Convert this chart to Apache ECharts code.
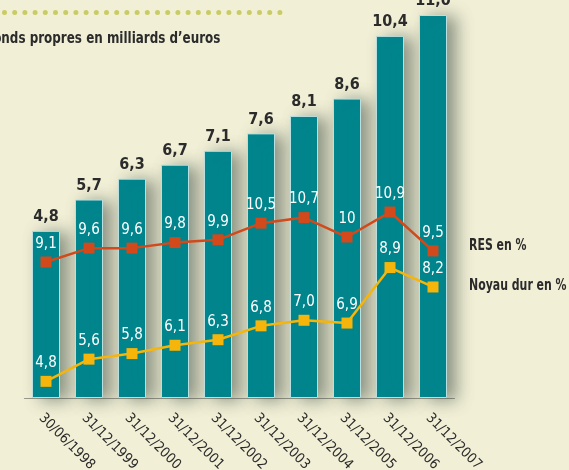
<!DOCTYPE html>
<html>
<head>
<meta charset="utf-8">
<script src="https://cdn.jsdelivr.net/npm/echarts@6/dist/echarts.min.js"></script>
<style>
  html, body { margin: 0; padding: 0; background: #f1efd6; }
  #chart { width: 569px; height: 470px; }
</style>
</head>
<body>
<div id="chart"></div>
<script>
// dates des arrêtés
const categories = ["30/06/1998", "31/12/1999", "31/12/2000", "31/12/2001", "31/12/2002", "31/12/2003", "31/12/2004", "31/12/2005", "31/12/2006", "31/12/2007"];
// fonds propres en milliards d'euros
const fondsPropres = [4.8, 5.7, 6.3, 6.7, 7.1, 7.6, 8.1, 8.6, 10.4, 11.0];
// ratios en %
const res = [9.1, 9.6, 9.6, 9.8, 9.9, 10.5, 10.7, 10, 10.9, 9.5];
const noyauDur = [4.8, 5.6, 5.8, 6.1, 6.3, 6.8, 7.0, 6.9, 8.9, 8.2];
const resLabels = ["9,1", "9,6", "9,6", "9,8", "9,9", "10,5", "10,7", "10", "10,9", "9,5"];

const font = '"DejaVu Sans Condensed", "Liberation Sans Narrow", sans-serif';
const fmt = v => v.toFixed(1).replace(".", ",");

const chart = echarts.init(document.getElementById("chart"));
chart.setOption({
  backgroundColor: "#f1efd6",
  animation: false,
  grid: { left: 24.5, width: 430, top: 15, bottom: 72, outerBoundsMode: "none", containLabel: false },
  xAxis: {
    type: "category",
    data: categories,
    axisTick: { show: false },
    axisLine: { lineStyle: { color: "#9a9a8a", width: 1 } },
    axisLabel: {
      rotate: -45, interval: 0, margin: 13, verticalAlign: "top",
      color: "#2b2b2b", fontSize: 14, fontFamily: font
    }
  },
  yAxis: [
    { type: "value", min: 0, max: 11, show: false, splitLine: { show: false } },
    { type: "value", min: 4.2, max: 18, show: false, splitLine: { show: false } }
  ],
  series: [
    {
      name: "Fonds propres",
      type: "bar",
      data: fondsPropres,
      barWidth: 28,
      itemStyle: {
        color: "#00878f",
        borderColor: "#b9dfe0",
        borderWidth: 1,
        shadowBlur: 16,
        shadowOffsetX: 9,
        shadowOffsetY: 2,
        shadowColor: "rgba(40,60,50,0.5)"
      },
      label: {
        show: true, position: "top", distance: 6,
        color: "#2b2b2b", fontSize: 16, fontWeight: "bold", fontFamily: font,
        formatter: p => fmt(p.value)
      }
    },
    {
      name: "RES en %",
      type: "line",
      yAxisIndex: 1,
      data: res,
      symbol: "rect",
      symbolSize: 11,
      lineStyle: { color: "#d2491b", width: 2.5 },
      itemStyle: { color: "#d2491b" },
      label: {
        show: true, position: "top", distance: 5,
        color: "#ffffff", fontSize: 15, fontFamily: font,
        formatter: p => resLabels[p.dataIndex]
      },
      z: 5
    },
    {
      name: "Noyau dur en %",
      type: "line",
      yAxisIndex: 1,
      data: noyauDur,
      symbol: "rect",
      symbolSize: 11,
      lineStyle: { color: "#f5b50a", width: 2.5 },
      itemStyle: { color: "#f5b50a" },
      label: {
        show: true, position: "top", distance: 5,
        color: "#ffffff", fontSize: 15, fontFamily: font,
        formatter: p => fmt(p.value)
      },
      z: 5
    }
  ],
  graphic: [
    {
      type: "line", left: 2, top: 10,
      shape: { x1: 0, y1: 0, x2: 284, y2: 0 },
      style: { stroke: "#c9cc66", lineWidth: 5, lineCap: "round", lineDash: [0, 10.2] }
    },
    {
      type: "text", x: -14.5, y: 31, scaleX: 0.83,
      style: { text: "Fonds propres en milliards d’euros", fill: "#2b2b2b", font: "bold 16px " + font }
    },
    {
      type: "text", x: 469, y: 238, scaleX: 0.76,
      style: { text: "RES en %", fill: "#2b2b2b", font: "bold 16px " + font }
    },
    {
      type: "text", x: 469, y: 278, scaleX: 0.76,
      style: { text: "Noyau dur en %", fill: "#2b2b2b", font: "bold 16px " + font }
    }
  ]
});
</script>
</body>
</html>
